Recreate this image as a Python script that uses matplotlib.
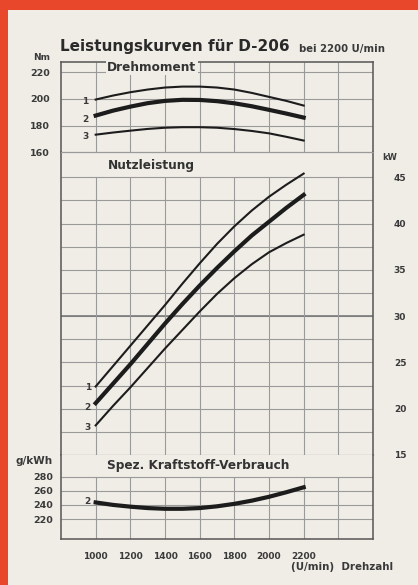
import matplotlib
matplotlib.use("Agg")
import matplotlib.pyplot as plt
from matplotlib.patches import Rectangle

plt.rcParams["font.family"] = ["DejaVu Sans"]

# --- data --------------------------------------------------------------
rpm = [1000, 1100, 1200, 1300, 1400, 1500, 1600, 1700, 1800, 1900, 2000, 2100, 2200]

torque_1 = [199.5, 202.5, 205.0, 207.0, 208.5, 209.2, 209.2, 208.5, 207.0, 204.5, 201.5, 198.5, 195.0]
torque_2 = [187.5, 191.2, 194.2, 196.8, 198.5, 199.3, 199.2, 198.3, 196.7, 194.5, 191.8, 189.0, 186.0]
torque_3 = [173.2, 174.8, 176.2, 177.5, 178.4, 178.8, 178.8, 178.4, 177.4, 176.0, 174.2, 171.6, 168.8]

power_1 = [22.4, 24.6, 26.8, 29.0, 31.2, 33.5, 35.7, 37.8, 39.7, 41.4, 42.9, 44.2, 45.4]
power_2 = [20.6, 22.7, 24.8, 27.0, 29.2, 31.3, 33.3, 35.2, 37.0, 38.7, 40.2, 41.7, 43.1]
power_3 = [18.2, 20.3, 22.3, 24.4, 26.5, 28.5, 30.5, 32.4, 34.1, 35.6, 36.9, 37.9, 38.8]

sfc_2 = [243.5, 240.0, 237.5, 235.5, 234.5, 234.5, 235.5, 238.0, 241.5, 246.0, 251.5, 258.0, 265.0]

x_grid = [1000, 1200, 1400, 1600, 1800, 2000, 2200, 2400]
x_ticks = [1000, 1200, 1400, 1600, 1800, 2000, 2200]
torque_ticks = [160, 180, 200, 220]
torque_grid = [180, 200, 220]
power_ticks = [15, 20, 25, 30, 35, 40, 45]
power_grid = [17.5, 20, 22.5, 25, 27.5, 30, 32.5, 35, 37.5, 40, 42.5, 45]
sfc_ticks = [220, 240, 260, 280]

W, H = 418, 585
RED = "#e8472b"
CREAM = "#f0ede7"
GRID = "#9a9a9a"
INK = "#1c1c1c"
TXT = "#3a3a3a"


def fx(px):
    return px / W


def fy(py):
    return 1 - py / H


fig = plt.figure(figsize=(W / 100, H / 100), dpi=100)
fig.patch.set_facecolor(RED)
fig.patches.append(Rectangle((fx(8), 0), 1, fy(10), transform=fig.transFigure,
                             facecolor=CREAM, edgecolor="none", zorder=-10))

left, right = 61, 373


def make_ax(top, bottom):
    ax = fig.add_axes([fx(left), fy(bottom), fx(right - left), (bottom - top) / H])
    ax.set_facecolor(CREAM)
    ax.set_xlim(800, 2600)
    ax.set_xticks([])
    ax.tick_params(length=0)
    for s in ax.spines.values():
        s.set_color("#555555")
        s.set_linewidth(1.1)
    return ax


ax_t = make_ax(62.3, 152.3)
ax_p = make_ax(152.3, 455)
ax_s = make_ax(455, 539.3)

ax_t.spines["bottom"].set_visible(False)
ax_p.spines["top"].set_color(GRID)
ax_p.spines["top"].set_linewidth(0.9)
ax_p.spines["bottom"].set_color(GRID)
ax_p.spines["bottom"].set_linewidth(0.9)
ax_s.spines["top"].set_visible(False)

ax_t.set_ylim(160, 227.4)
ax_p.set_ylim(15, 47.7)
ax_s.set_ylim(191.2, 310.8)

lw_g = 0.8
# torque grid
ax_t.hlines(torque_grid, 800, 2600, color=GRID, lw=lw_g, zorder=1)
ax_t.vlines(x_grid, 160, 227.4, color=GRID, lw=lw_g, zorder=1)
# power grid
ax_p.hlines(power_grid, 800, 2600, color=GRID, lw=lw_g, zorder=1)
ax_p.hlines([30], 800, 2600, color="#7a7a7a", lw=1.2, zorder=1)
ax_p.vlines(x_grid, 15, 45, color=GRID, lw=lw_g, zorder=1)
# sfc grid
ax_s.hlines(sfc_ticks, 800, 2600, color=GRID, lw=lw_g, zorder=1)
ax_s.vlines(x_grid, 191.2, 280, color=GRID, lw=lw_g, zorder=1)

# curves
ax_t.plot(rpm, torque_1, color=INK, lw=1.5, zorder=3)
ax_t.plot(rpm, torque_2, color=INK, lw=3.0, zorder=3)
ax_t.plot(rpm, torque_3, color=INK, lw=1.5, zorder=3)
ax_p.plot(rpm, power_1, color=INK, lw=1.5, zorder=3)
ax_p.plot(rpm, power_2, color=INK, lw=3.0, zorder=3)
ax_p.plot(rpm, power_3, color=INK, lw=1.5, zorder=3)
ax_s.plot(rpm, sfc_2, color=INK, lw=3.0, zorder=3)

# curve numbers
lab = dict(textcoords="offset points", ha="right", va="center",
           fontsize=6.5, fontweight="bold", color=TXT)
ax_t.annotate("1", (1000, torque_1[0]), xytext=(-5, -1.5), **lab)
ax_t.annotate("2", (1000, torque_2[0]), xytext=(-5, -3), **lab)
ax_t.annotate("3", (1000, torque_3[0]), xytext=(-5, -1), **lab)
ax_p.annotate("1", (1000, power_1[0]), xytext=(-3.5, -1), **lab)
ax_p.annotate("2", (1000, power_2[0]), xytext=(-3.5, -3), **lab)
ax_p.annotate("3", (1000, power_3[0]), xytext=(-3.5, -1.5), **lab)
ax_s.annotate("2", (1000, sfc_2[0]), xytext=(-3.5, 0.5), **lab)

# panel titles
band = dict(fontsize=8.7, fontweight="bold", color="#333333", va="center", ha="left",
            zorder=4, bbox=dict(boxstyle="square,pad=0.12", fc=CREAM, ec="none"))
fig.text(fx(107), fy(67.5), "Drehmoment", **band)
fig.text(fx(108), fy(166), "Nutzleistung", **band)
fig.text(fx(107), fy(466), "Spez. Kraftstoff-Verbrauch", **band)

# tick labels
tk = dict(fontsize=6.8, fontweight="bold", color=TXT)
ax_t.set_yticks(torque_ticks)
ax_t.set_yticklabels([str(v) for v in torque_ticks], **tk)
ax_t.tick_params(axis="y", pad=8)

ax_p.yaxis.tick_right()
ax_p.set_yticks(power_ticks)
ax_p.set_yticklabels([str(v) for v in power_ticks], fontsize=6.5, fontweight="bold", color=TXT)
ax_p.tick_params(axis="y", pad=15)

ax_s.set_yticks(sfc_ticks)
ax_s.set_yticklabels([str(v) for v in sfc_ticks], **tk)
ax_s.tick_params(axis="y", pad=6)

ax_s.set_xticks(x_ticks)
ax_s.set_xticklabels([str(v) for v in x_ticks], fontsize=6.5, fontweight="bold", color=TXT)
ax_s.tick_params(axis="x", pad=9)

# unit labels and title
fig.text(fx(42), fy(57.5), "Nm", fontsize=6.5, fontweight="bold", color=TXT, ha="center", va="center")
fig.text(fx(390), fy(158), "kW", fontsize=6, fontweight="bold", color=TXT, ha="center", va="center")
fig.text(fx(34), fy(461.5), "g/kWh", fontsize=7.5, fontweight="bold", color=TXT, ha="center", va="center")
fig.text(fx(291), fy(567), "(U/min)  Drehzahl", fontsize=7.4, fontweight="bold", color=TXT,
         ha="left", va="center")
fig.text(fx(60), fy(47), "Leistungskurven für D-206", fontsize=11, fontweight="bold",
         color="#2a2a2a", ha="left", va="center")
fig.text(fx(299), fy(49), "bei 2200 U/min", fontsize=7.3, fontweight="bold",
         color=TXT, ha="left", va="center")

fig.savefig("out.png", dpi=100, facecolor=fig.get_facecolor())
